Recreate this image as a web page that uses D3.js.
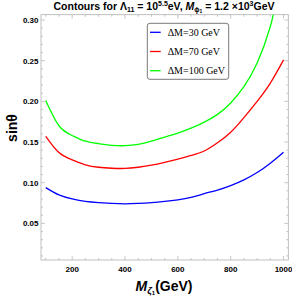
<!DOCTYPE html>
<html><head><meta charset="utf-8">
<script src="https://cdn.jsdelivr.net/npm/d3@7"></script>
<style>body{margin:0;background:#fff}svg{display:block}</style>
</head><body>
<svg id="c" width="292" height="297"></svg>
<script>
const massValues = [100,150,200,250,300,350,400,450,500,550,600,650,700,750,800,850,900,950,975];
const massValuesFull = [100,150,200,250,300,350,400,450,500,550,600,650,700,750,800,850,900,950,1000];
const green100 = [0.201,0.170,0.158,0.151,0.148,0.146,0.1455,0.147,0.151,0.156,0.161,0.167,0.1745,0.184,0.198,0.218,0.247,0.292,0.330];
const red70 = [0.157,0.137,0.128,0.122,0.119,0.1178,0.1175,0.119,0.1215,0.125,0.129,0.1335,0.139,0.149,0.162,0.180,0.200,0.2225,0.251];
const blue30 = [0.094,0.085,0.080,0.077,0.0755,0.0745,0.074,0.0745,0.0755,0.077,0.079,0.082,0.0865,0.091,0.0965,0.1035,0.1125,0.124,0.1375];
const seriesNames = ["ΔM=30 GeV","ΔM=70 GeV","ΔM=100 GeV"];
const seriesColors = ["#0000ff","#ff0000","#00ff00"];
const xTicks = [200,400,600,800,1000];
const yTicks = [0.05,0.10,0.15,0.20,0.25,0.30];

const svg = d3.select("#c");
const L=41,R=288.3,T=14.7,B=260;
const x = d3.scaleLinear().domain([82,1018]).range([L,R]);
const y = d3.scaleLinear().domain([0.005,0.3065]).range([B,T]);
const sans = "'Liberation Sans', Arial, Helvetica, sans-serif";
const serif = "'Liberation Serif', 'Times New Roman', serif";

svg.append("defs").append("clipPath").attr("id","cp").append("rect")
  .attr("x",L).attr("y",T).attr("width",R-L).attr("height",B-T);

// frame
const frameCol="#b0b0b0";
svg.append("rect").attr("x",L).attr("y",T).attr("width",R-L).attr("height",B-T)
  .attr("fill","none").attr("stroke",frameCol).attr("stroke-width",0.8);

// ticks
const xMinor = d3.range(100,1001,50).filter(v=>!xTicks.includes(v));
const yMinor = d3.range(0.01,0.301,0.01).map(v=>+v.toFixed(2)).filter(v=>!yTicks.includes(v));
const tg = svg.append("g").attr("stroke",frameCol).attr("stroke-width",0.7);
xTicks.forEach(v=>{tg.append("line").attr("x1",x(v)).attr("x2",x(v)).attr("y1",B).attr("y2",B-4);
  tg.append("line").attr("x1",x(v)).attr("x2",x(v)).attr("y1",T).attr("y2",T+4);});
xMinor.forEach(v=>{tg.append("line").attr("x1",x(v)).attr("x2",x(v)).attr("y1",B).attr("y2",B-2);
  tg.append("line").attr("x1",x(v)).attr("x2",x(v)).attr("y1",T).attr("y2",T+2);});
yTicks.forEach(v=>{tg.append("line").attr("x1",L).attr("x2",L+4).attr("y1",y(v)).attr("y2",y(v));
  tg.append("line").attr("x1",R).attr("x2",R-4).attr("y1",y(v)).attr("y2",y(v));});
yMinor.forEach(v=>{tg.append("line").attr("x1",L).attr("x2",L+2).attr("y1",y(v)).attr("y2",y(v));
  tg.append("line").attr("x1",R).attr("x2",R-2).attr("y1",y(v)).attr("y2",y(v));});

// tick labels
svg.append("g").selectAll("text").data(xTicks).join("text")
  .attr("x",d=>x(d)).attr("y",B+12).attr("text-anchor","middle")
  .attr("font-family",sans).attr("font-weight","bold").attr("font-size",8).text(d=>d);
svg.append("g").selectAll("text").data(yTicks).join("text")
  .attr("x",L-2.5).attr("y",d=>y(d)+3).attr("text-anchor","end")
  .attr("font-family",sans).attr("font-weight","bold").attr("font-size",8).text(d=>d.toFixed(2));

// curves
const line = d3.line().x(d=>x(d[0])).y(d=>y(d[1])).curve(d3.curveNatural);
const data = [
  massValuesFull.map((m,i)=>[m,blue30[i]]),
  massValuesFull.map((m,i)=>[m,red70[i]]),
  massValues.map((m,i)=>[m,green100[i]])
];
svg.append("g").attr("clip-path","url(#cp)").selectAll("path").data(data).join("path")
  .attr("d",line).attr("fill","none").attr("stroke",(d,i)=>seriesColors[i]).attr("stroke-width",1.3);

// legend
const lg = svg.append("g");
lg.append("rect").attr("x",147.3).attr("y",23.3).attr("width",81.4).attr("height",56).attr("rx",2.5)
  .attr("fill","#fff").attr("stroke","#555").attr("stroke-width",0.8);
seriesNames.forEach((n,i)=>{
  const yy = 32.3 + i*19.2;
  lg.append("line").attr("x1",150).attr("x2",160.7).attr("y1",yy).attr("y2",yy)
    .attr("stroke",seriesColors[i]).attr("stroke-width",1.3);
  lg.append("text").attr("x",167.7).attr("y",yy+3.5).attr("font-family",serif).attr("font-size",10).text(n);
});

// title
const t = svg.append("text").attr("x",164).attr("y",10).attr("text-anchor","middle")
  .attr("font-family",sans).attr("font-weight","bold").attr("font-size",10.5);
t.append("tspan").text("Contours for Λ");
t.append("tspan").attr("font-size",7).attr("dy",2).text("11");
t.append("tspan").attr("dy",-2).text(" = 10");
t.append("tspan").attr("font-size",7).attr("dy",-4).text("5.5");
t.append("tspan").attr("dy",4).text("eV, ");
t.append("tspan").attr("font-style","italic").text("M");
t.append("tspan").attr("font-size",7).attr("dy",2).text("ϕ");
t.append("tspan").attr("font-size",5).attr("dy",1.2).text("1");
t.append("tspan").attr("dy",-3.2).text(" = 1.2 ×10");
t.append("tspan").attr("font-size",7).attr("dy",-4).text("3");
t.append("tspan").attr("dy",4).text("GeV");

// x label
const xl = svg.append("text").attr("x",164).attr("y",290.5).attr("text-anchor","middle")
  .attr("font-family",sans).attr("font-weight","bold").attr("font-size",14);
xl.append("tspan").attr("font-style","italic").text("M");
xl.append("tspan").attr("font-size",9.5).attr("dy",3).attr("font-style","italic").text("ζ");
xl.append("tspan").attr("font-size",6).attr("dy",1.5).text("1");
xl.append("tspan").attr("dy",-4.5).text("(GeV)");

// y label
svg.append("text").attr("transform","translate(17,128) rotate(-90)").attr("text-anchor","middle")
  .attr("font-family",sans).attr("font-weight","bold").attr("font-size",14)
  .text("sinθ");
</script>
</body></html>
